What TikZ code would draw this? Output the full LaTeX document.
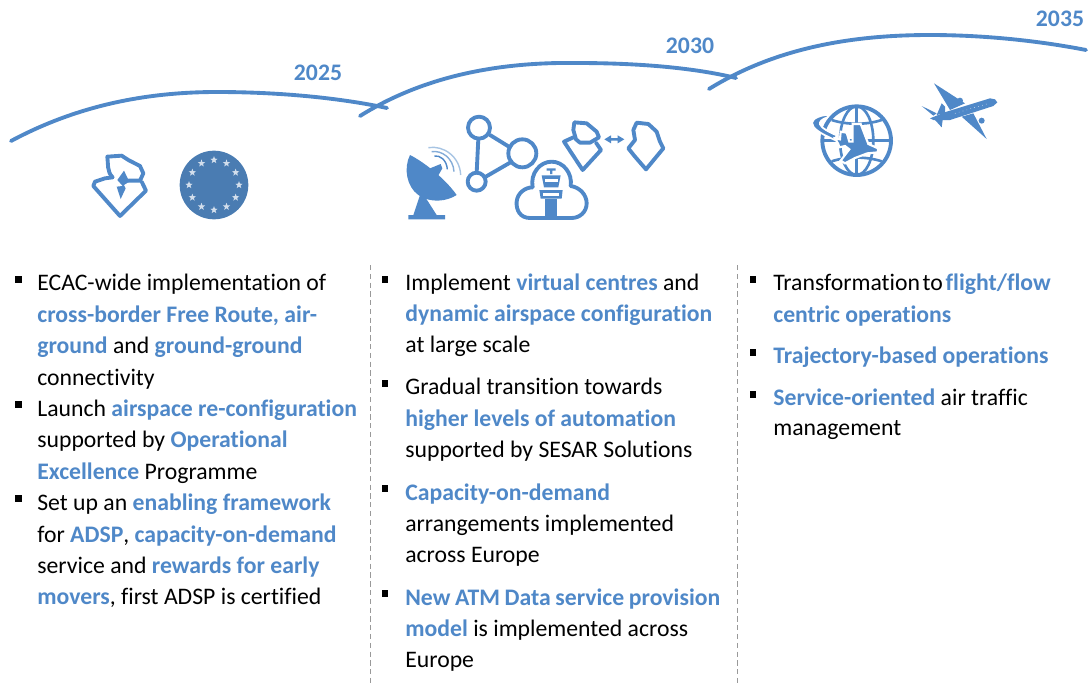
\documentclass[tikz,border=0pt]{standalone}
\usepackage{fontspec}
\setmainfont{Carlito}[Ligatures={NoCommon}]
\usetikzlibrary{shapes.geometric,calc}
\definecolor{keyblue}{HTML}{4F88C8}
\definecolor{eublue}{HTML}{4A7CB2}
\newcommand{\hl}[1]{{\color{keyblue}\bfseries #1}}
\tikzset{
	curve/.style={draw=keyblue, line width=2.2pt, line cap=round},
	year/.style={text=keyblue, font=\fontsize{13.5}{16}\selectfont\bfseries},
	divider/.style={draw=gray!80, line width=0.5pt, densely dashed},
	bullet/.style={rectangle, fill=black, inner sep=0pt, minimum size=3.8pt},
	listtext/.style={anchor=north west, inner sep=0pt, align=left, font=\fontsize{13.5}{17.87}\selectfont, execute at begin node=\strut},
	icon/.style={draw=keyblue, line width=2.2pt, line join=round, line cap=round},
	iconfill/.style={fill=keyblue, draw=none},
	gridline/.style={draw=keyblue, line width=1.5pt},
}
\begin{document}
\begin{tikzpicture}[x=0.02cm, y=-0.02cm]
	\useasboundingbox (0,0) rectangle (1089,683);

	% time line
	\draw[curve] (11,141) .. controls (80,104) and (150,92) .. (217,92) .. controls (280,92) and (340,98) .. (387,108);
	\draw[curve] (360,116) .. controls (430,72) and (510,62) .. (577,63) .. controls (640,63) and (695,68) .. (736,78);
	\draw[curve] (709,89) .. controls (780,45) and (860,35) .. (930,35) .. controls (985,35) and (1040,41) .. (1086,50);
	\node[year] (y1) at (318,73) {2025};
	\node[year] (y2) at (690,46) {2030};
	\node[year] (y3) at (1060,19) {2035};

	% dividers
	\coordinate (d1a) at (370,265);
	\coordinate (d1b) at (370,683);
	\coordinate (d2a) at (737,265);
	\coordinate (d2b) at (737,683);
	\draw[divider] (d1a) -- (d1b);
	\draw[divider] (d2a) -- (d2b);

	% icons 2025
	\begin{scope}[shift={(60,130)}, scale=1/3]
		\draw[icon] (158,142) -- (135,145) -- (105,155) -- (100,168) -- (180,258) -- (258,182) -- (245,155);
		\draw[icon] (158,142) .. controls (140,125) and (145,100) .. (142,80) -- (185,77) -- (205,90) -- (240,108) -- (250,130) -- (240,152) -- (205,152);
		\fill[iconfill] (192,122) -- (208,155) -- (192,165) -- (197,175) -- (182,207) -- (170,170) -- (188,168) -- (172,150) -- cycle;
		\fill[eublue] (462,165) circle (103);
		\foreach \a in {0,30,...,330}
			\node[star, star points=5, star point ratio=2.4, fill=white!75!eublue, inner sep=0pt, minimum size=4.4pt] (s\a) at ($(462,165)+(\a:75)$) {};
	\end{scope}

	% icons 2030
	\begin{scope}[shift={(390,100)}, scale=1/3]
		\fill[iconfill] (60,165) .. controls (100,185) and (165,235) .. (200,285) .. controls (170,305) and (120,310) .. (85,285) .. controls (50,260) and (40,205) .. (60,165) -- cycle;
		\fill[iconfill] (90,285) -- (70,345) -- (55,345) -- (55,358) -- (165,358) -- (165,345) -- (140,345) -- (108,295) -- cycle;
		\fill[iconfill] (120,205) -- (152,192) -- (157,205) -- (140,235) -- cycle;
		\draw[keyblue, line width=0.8pt] (133,168) .. controls (150,165) and (170,180) .. (172,208);
		\draw[keyblue!70, line width=0.8pt] (125,155) .. controls (155,150) and (190,175) .. (192,215);
		\draw[keyblue!50, line width=0.8pt] (115,143) .. controls (160,135) and (210,170) .. (212,225);
		\draw[icon] (267,83) circle (33);
		\draw[icon] (397,160) circle (42);
		\draw[icon] (260,245) circle (27);
		\draw[icon] (300,105) -- (360,142);
		\draw[icon] (265,116) -- (260,218);
		\draw[icon] (284,232) -- (360,188);
		\draw[icon] (420,354) .. controls (390,354) and (378,330) .. (380,305) .. controls (382,280) and (405,262) .. (428,262) .. controls (420,220) and (450,185) .. (485,185) .. controls (520,185) and (548,220) .. (542,258) .. controls (570,262) and (590,285) .. (590,310) .. controls (590,335) and (570,354) .. (545,354) -- cycle;
		\fill[iconfill] (470,205) -- (497,205) -- (497,212) -- (487,212) -- (487,222) -- (480,222) -- (480,212) -- (470,212) -- cycle;
		\fill[iconfill] (455,226) -- (512,226) -- (505,262) -- (462,262) -- cycle;
		\fill[white] (464,236) rectangle (503,246);
		\fill[iconfill] (448,270) -- (518,270) -- (515,296) -- (452,296) -- cycle;
		\fill[white] (460,279) rectangle (506,287);
		\fill[iconfill] (465,296) rectangle (500,356);
		\draw[icon] (550,112) -- (522,125) -- (578,210) -- (633,150) -- (618,128);
		\draw[icon] (558,118) -- (550,90) -- (553,67) -- (590,70) -- (620,95) -- (627,112) -- (600,128) -- (570,128) -- cycle;
		\fill[iconfill] (643,118) -- (663,106) -- (663,114) -- (683,114) -- (683,106) -- (703,118) -- (683,130) -- (683,122) -- (663,122) -- (663,130) -- cycle;
		\draw[icon] (740,68) -- (775,72) -- (800,95) -- (810,125) -- (820,145) -- (768,208) -- (735,170) -- (715,145) -- (735,120) -- (730,90) -- cycle;
	\end{scope}

	% icons 2035
	\begin{scope}[shift={(790,70)}, scale=1/3]
		\draw[icon] (200,212) circle (103);
		\draw[gridline] (200,212) ellipse (50 and 103);
		\draw[gridline] (200,109) -- (200,315);
		\draw[gridline] (97,212) -- (303,212);
		\draw[gridline] (125,150) .. controls (170,165) and (230,165) .. (275,150);
		\draw[gridline] (125,274) .. controls (170,259) and (230,259) .. (275,274);
		\fill[keyblue, draw=white, line width=1pt] (135,210) .. controls (90,190) and (66,175) .. (66,158) .. controls (68,143) and (95,135) .. (118,134) -- (112,142) .. controls (95,148) and (88,155) .. (90,163) .. controls (95,175) and (115,185) .. (140,196) -- cycle;
		% plane on the globe
		\fill[keyblue, draw=white, line width=1.2pt] (135,205) -- (150,208) -- (152,185) -- (170,188) -- (178,215) -- (188,215) -- (188,162) -- (212,162) -- (235,222) -- (264,235) -- (264,247) -- (232,250) -- (195,264) -- (165,280) -- (152,272) -- (178,238) -- (165,228) -- (148,232) -- (145,222) -- cycle;
		% plane in the sky
		\fill[iconfill] (420,145) -- (470,125) -- (600,85) -- (615,88) -- (622,97) -- (610,108) -- (480,150) -- (430,150) -- cycle;
		\fill[iconfill] (432,40) -- (525,100) -- (480,120) -- cycle;
		\fill[iconfill] (590,207) -- (515,140) -- (550,130) -- cycle;
		\fill[iconfill] (455,100) -- (465,110) -- (465,130) -- (440,135) -- cycle;
		\fill[iconfill] (395,108) -- (440,130) -- (430,137) -- cycle;
		\fill[iconfill] (435,150) -- (458,150) -- (455,172) -- cycle;
		\fill[iconfill] (510,92) circle (9);
		\fill[iconfill] (575,152) circle (9);
		\draw[white, line width=0.3pt, dotted] (495,130) -- (590,102);
	\end{scope}

	% first column
	\node[bullet] (b1) at (18.5,279.5) {};
	\node[listtext] (t1) at (37,274) {ECAC-wide implementation of\\
		\hl{cross-border Free Route, air-}\\
		\hl{ground} and \hl{ground-ground}\\
		connectivity};
	\node[bullet] (b2) at (18.5,404.5) {};
	\node[listtext] (t2) at (37,399.6) {Launch \hl{airspace re-configuration}\\
		supported by \hl{Operational}\\
		\hl{Excellence} Programme};
	\node[bullet] (b3) at (18.5,498.5) {};
	\node[listtext] (t3) at (37,493.8) {Set up an \hl{enabling framework}\\
		for \hl{ADSP}, \hl{capacity-on-demand}\\
		service and \hl{rewards for early}\\
		\hl{movers}, first ADSP is certified};

	% second column
	\node[bullet] (b4) at (385,279.5) {};
	\node[listtext] (t4) at (405,273) {Implement \hl{virtual centres} and\\
		\hl{dynamic airspace configuration}\\
		at large scale};
	\node[bullet] (b5) at (385,383.5) {};
	\node[listtext] (t5) at (405,378) {Gradual transition towards\\
		\hl{higher levels of automation}\\
		supported by SESAR Solutions};
	\node[bullet] (b6) at (385,488.5) {};
	\node[listtext] (t6) at (405,483) {\hl{Capacity-on-demand}\\
		arrangements implemented\\
		across Europe};
	\node[bullet] (b7) at (385,593.5) {};
	\node[listtext] (t7) at (405,588) {\hbox to 6.3cm{\hl{New} \hl{ATM} \hl{Data} \hl{service} \hl{provision}}\\
		\hl{model} is implemented across\\
		Europe};

	% third column
	\node[bullet] (b8) at (753,279.5) {};
	\node[listtext] (t8) at (773,274) {Transformation\hspace{-1.5pt} to\hspace{-1.5pt} \hl{flight/flow}\\
		\hl{centric operations}};
	\node[bullet] (b9) at (753,352.5) {};
	\node[listtext] (t9) at (773,341) {\hl{Trajectory-based operations}};
	\node[bullet] (b10) at (753,394.5) {};
	\node[listtext] (t10) at (773,389) {\hl{Service-oriented} air traffic\\[-1.2pt]
		management};
\end{tikzpicture}
\end{document}
